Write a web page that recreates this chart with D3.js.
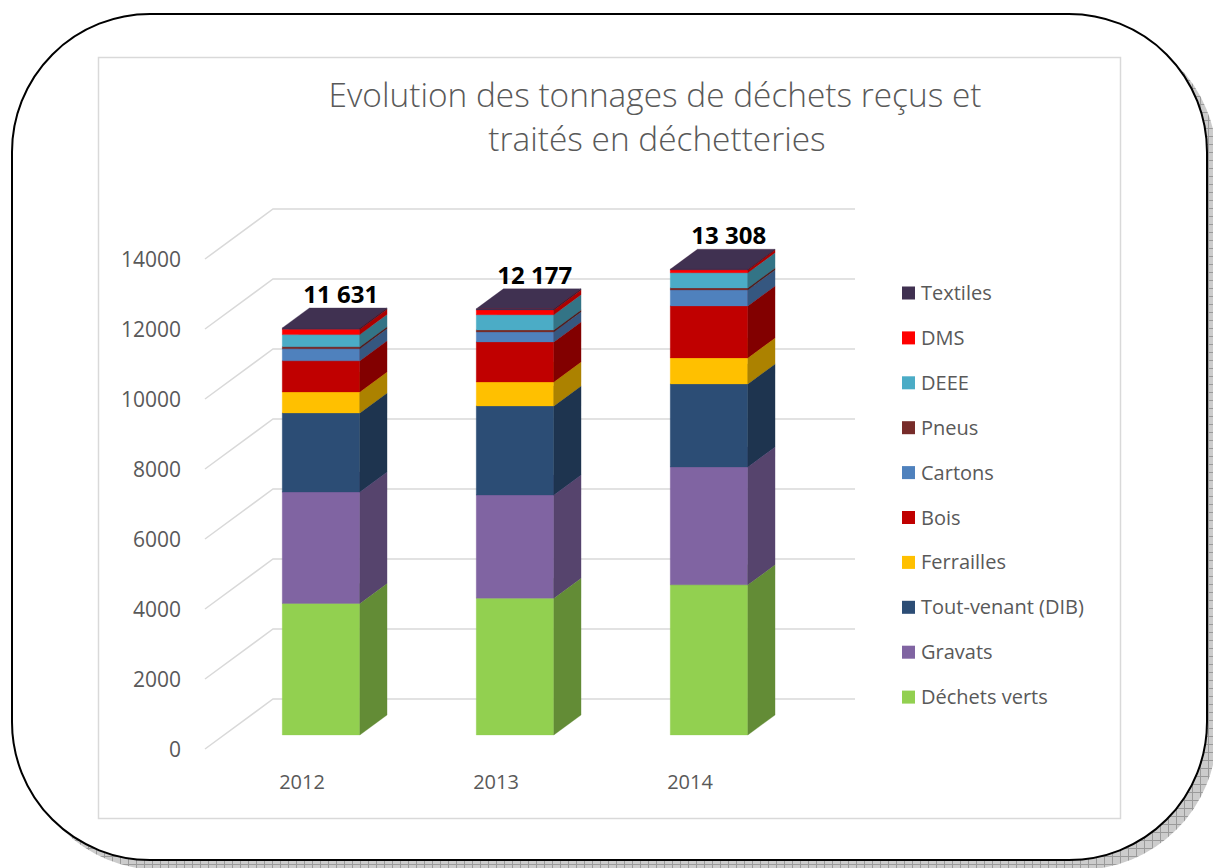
<!DOCTYPE html>
<html>
<head>
<meta charset="utf-8">
<script src="https://cdn.jsdelivr.net/npm/d3@7"></script>
<style>
  body { margin: 0; background: #fff; }
  text { font-family: "Open Sans", "DejaVu Sans", sans-serif; }
</style>
</head>
<body>
<svg id="chart" width="1213" height="868"></svg>
<script>
// Tonnages per year
const years = ['2012', '2013', '2014'];
const seriesNames = ['Déchets verts', 'Gravats', 'Tout-venant (DIB)', 'Ferrailles', 'Bois',
                     'Cartons', 'Pneus', 'DEEE', 'DMS', 'Textiles'];
const dechetsVerts = [3760, 3910, 4290];
const gravats      = [3180, 2945, 3370];
const toutVenant   = [2260, 2545, 2370];
const ferrailles   = [600, 685, 745];
const bois         = [890, 1145, 1485];
const cartons      = [345, 285, 455];
const pneus        = [60, 60, 60];
const deee         = [345, 430, 430];
const dms          = [150, 140, 80];
const textiles     = [41, 32, 23];
const seriesColors = ['#92D050', '#8064A2', '#2C4D75', '#FFC000', '#C00000',
                      '#4F81BD', '#772C2A', '#4BACC6', '#FF0000', '#403151'];
const yTicks = [0, 2000, 4000, 6000, 8000, 10000, 12000, 14000];
const chartTitle = ['Evolution des tonnages de déchets reçus et', 'traités en déchetteries'];

const seriesValues = [dechetsVerts, gravats, toutVenant, ferrailles, bois,
                      cartons, pneus, deee, dms, textiles];

const table = years.map((year, i) => {
    const row = { year };
    seriesNames.forEach((name, s) => { row[name] = seriesValues[s][i]; });
    return row;
});

const svg = d3.select('#chart');
const grey = '#595959';

// hatched shadow behind the rounded frame
const defs = svg.append('defs');
const pat = defs.append('pattern')
    .attr('id', 'hatch')
    .attr('width', 8).attr('height', 8)
    .attr('patternUnits', 'userSpaceOnUse');
pat.append('rect').attr('width', 8).attr('height', 8).attr('fill', '#cccccc');
pat.append('path').attr('d', 'M0,0.5H8M0.5,0V8').attr('stroke', '#9a9a9a').attr('stroke-width', 1);

svg.append('rect')
    .attr('x', 22).attr('y', 24)
    .attr('width', 1195).attr('height', 846)
    .attr('rx', 138).attr('ry', 138)
    .attr('fill', 'url(#hatch)');

svg.append('rect')
    .attr('x', 12).attr('y', 14)
    .attr('width', 1195).attr('height', 846)
    .attr('rx', 138).attr('ry', 138)
    .attr('fill', '#fff')
    .attr('stroke', '#000')
    .attr('stroke-width', 2);

// chart area border
svg.append('rect')
    .attr('x', 98.5).attr('y', 57.5)
    .attr('width', 1022).attr('height', 761)
    .attr('fill', 'none')
    .attr('stroke', '#d9d9d9')
    .attr('stroke-width', 1.5);

// title
const title = svg.append('g').attr('fill', grey).attr('text-anchor', 'middle');
const t1 = title.append('text')
    .attr('x', 655).attr('y', 107)
    .attr('font-weight', 300)
    .attr('font-size', 40)
    .text(chartTitle[0]);
const fitSize = 40 * 653 / t1.node().getComputedTextLength();
t1.attr('font-size', fitSize);
title.append('text')
    .attr('x', 657).attr('y', 151)
    .attr('font-weight', 300)
    .attr('font-size', fitSize)
    .text(chartTitle[1]);

// scales; depth is drawn as an oblique offset
const x = d3.scaleBand()
    .domain(years)
    .range([205, 787])
    .paddingInner(0.6)
    .paddingOuter(0.3);

const y = d3.scaleLinear()
    .domain([0, 14000])
    .range([749, 259]);

const depthX = 68, depthY = 50;
const barFront = 0.28, barBack = 0.68;
const proj = (xf, v, f) => [xf + f * depthX, y(v) - f * depthY];
const poly = pts => 'M' + pts.map(p => p.join(',')).join('L') + 'Z';

// gridlines: floor diagonal then back wall
const grid = svg.append('g')
    .attr('fill', 'none')
    .attr('stroke', '#d9d9d9')
    .attr('stroke-width', 1.5);
yTicks.forEach(t => {
    const a = proj(205, t, 0), b = proj(205, t, 1), c = proj(787, t, 1);
    grid.append('path').attr('d', `M${a}L${b}L${c}`);
});

svg.append('g')
    .attr('fill', grey)
    .attr('font-size', 21)
    .attr('text-anchor', 'end')
    .selectAll('text')
    .data(yTicks)
    .enter()
    .append('text')
    .attr('x', 181)
    .attr('y', d => y(d) + 7.5)
    .text(d => d);

// stacked 3D columns
const series = d3.stack().keys(seriesNames)(table);
const bw = x.bandwidth();

series.forEach((s, i) => {
    const col = seriesColors[i];
    const side = d3.color(col).darker(1.1).formatHex();
    const g = svg.append('g');
    s.forEach(d => {
        const x0 = x(d.data.year), x1 = x0 + bw;
        g.append('path')
            .attr('d', poly([proj(x0, d[1], barFront), proj(x1, d[1], barFront),
                             proj(x1, d[0], barFront), proj(x0, d[0], barFront)]))
            .attr('fill', col).attr('stroke', col).attr('stroke-width', 0.3);
        g.append('path')
            .attr('d', poly([proj(x1, d[1], barFront), proj(x1, d[1], barBack),
                             proj(x1, d[0], barBack), proj(x1, d[0], barFront)]))
            .attr('fill', side).attr('stroke', side).attr('stroke-width', 0.3);
        g.append('path')
            .attr('d', poly([proj(x0, d[1], barFront), proj(x1, d[1], barFront),
                             proj(x1, d[1], barBack), proj(x0, d[1], barBack)]))
            .attr('fill', col).attr('stroke', col).attr('stroke-width', 0.3);
    });
});

// totals above columns
const fmt = d3.formatLocale({ decimal: ',', thousands: ' ', grouping: [3], currency: ['', ' €'] }).format(',d');
const totals = table.map(r => d3.sum(seriesNames, n => r[n]));
svg.append('g')
    .attr('text-anchor', 'middle')
    .attr('font-weight', 700)
    .attr('font-size', 24)
    .attr('fill', '#000')
    .selectAll('text')
    .data(years)
    .enter()
    .append('text')
    .attr('x', (d, i) => proj(x(d) + bw / 2, totals[i], 0.57)[0])
    .attr('y', (d, i) => proj(x(d) + bw / 2, totals[i], barBack)[1] - 5)
    .text((d, i) => fmt(totals[i]));

// category labels
svg.append('g')
    .attr('text-anchor', 'middle')
    .attr('font-size', 20)
    .attr('fill', grey)
    .selectAll('text')
    .data(years)
    .enter()
    .append('text')
    .attr('x', d => x(d) + bw / 2)
    .attr('y', 789)
    .text(d => d);

// legend, top series first
const legendRows = seriesNames.map((n, i) => ({ name: n, color: seriesColors[i] })).reverse();
const legend = svg.append('g').attr('transform', 'translate(902,293)');
legendRows.forEach((r, i) => {
    const row = legend.append('g').attr('transform', `translate(0,${i * 44.9})`);
    row.append('rect')
        .attr('x', 0).attr('y', -6.5)
        .attr('width', 13).attr('height', 13)
        .attr('fill', r.color);
    row.append('text')
        .attr('x', 19).attr('y', 7)
        .attr('font-size', 20)
        .attr('fill', grey)
        .text(r.name);
});
</script>
</body>
</html>
